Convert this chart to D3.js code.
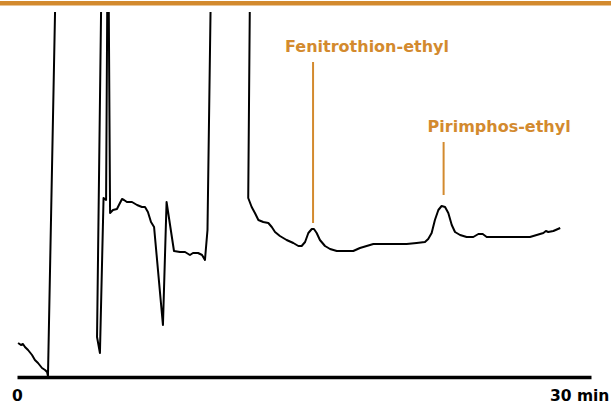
<!DOCTYPE html>
<html>
<head>
<meta charset="utf-8">
<script src="https://cdn.jsdelivr.net/npm/d3@7"></script>
<style>
  body { margin: 0; background: #fff; }
  svg { display: block; }
</style>
</head>
<body>
<svg></svg>
<script>
// chromatogram trace: retention time (min) and detector response (arb. units)
const times = [0.06, 0.22, 0.33, 0.44, 0.61, 0.83, 0.99, 1.16, 1.38, 1.55, 1.66, 1.71, 2.16,
  4.68, 4.42, 4.58, 4.78, 4.92, 5.00, 5.05, 5.14, 5.30, 5.52, 5.63, 5.80, 5.91, 6.07, 6.35,
  6.63, 6.90, 7.07, 7.23, 7.40, 7.57, 8.06, 8.26, 8.67, 9.00, 9.28, 9.55, 9.72, 10.00, 10.22,
  10.38, 10.52, 10.73, 12.88, 12.77, 12.96, 13.14, 13.33, 13.60, 13.88, 14.07, 14.25, 14.52,
  14.89, 15.26, 15.54, 15.72, 15.91, 16.09, 16.28, 16.40, 16.55, 16.73, 17.01, 17.29, 17.66,
  18.21, 18.57, 18.94, 19.31, 19.68, 20.60, 21.52, 22.07, 22.53, 22.71, 22.90, 23.08, 23.27,
  23.45, 23.64, 23.82, 24.01, 24.19, 24.47, 24.83, 25.20, 25.48, 25.72, 25.94, 26.67, 27.23,
  27.60, 28.33, 28.70, 29.07, 29.21, 29.34, 29.62, 30.00];
const response = [34, 32, 33, 30, 27, 22, 17, 14, 9, 7, 5, 1, 420,
  420, 40, 24, 179, 177, 420, 420, 164, 167, 168, 172, 178, 177, 175, 175,
  172, 170, 170, 165, 155, 150, 52, 175, 126, 125, 125, 122, 124, 124, 122,
  117, 147, 420, 420, 179, 170, 164, 157, 155, 154, 150, 145, 141,
  137, 134, 131, 131, 135, 144, 148, 148, 144, 137, 131, 128, 126,
  126, 126, 129, 131, 133, 133, 133, 134, 135, 138, 144, 157, 167,
  171, 170, 164, 152, 145, 142, 140, 140, 143, 143, 140, 140, 140,
  140, 140, 142, 144, 146, 145, 146, 149];

// identified peaks
const peakNames = ["Fenitrothion-ethyl", "Pirimphos-ethyl"];
const peakTimes = [16.35, 23.56];
const peakHeights = [148, 171];

const tickValues = [0, 30];
const timeUnit = "min";

const W = 611, H = 403;
const orange = "#d38a2e";

const svg = d3.select("svg").attr("width", W).attr("height", H);

const x = d3.scaleLinear().domain([0, 31.7]).range([17, 591]);
const y = d3.scaleLinear().domain([0, 365]).range([377, 12]);

// top rule
svg.append("rect")
  .attr("x", 0).attr("y", 1)
  .attr("width", W).attr("height", 4.5)
  .attr("fill", orange);

svg.append("clipPath").attr("id", "plotClip")
  .append("rect")
  .attr("x", 0).attr("y", 12)
  .attr("width", W).attr("height", H - 12);

const trace = times.map((t, i) => [t, response[i]]);

const line = d3.line()
  .x(d => x(d[0]))
  .y(d => y(d[1]));

svg.append("path")
  .datum(trace)
  .attr("clip-path", "url(#plotClip)")
  .attr("d", line)
  .attr("fill", "none")
  .attr("stroke", "#000")
  .attr("stroke-width", 2)
  .attr("stroke-linejoin", "round");

// time axis
const axis = svg.append("g")
  .attr("transform", "translate(0," + y(0) + ")")
  .call(d3.axisBottom(x).tickValues(tickValues).tickSize(0).tickSizeOuter(0).tickFormat(""));

axis.select(".domain")
  .attr("stroke", "#000")
  .attr("stroke-width", 3.5);

axis.selectAll(".tick").each(function(d, i) {
  let t = d3.select(this).append("text")
    .attr("y", 23.5)
    .attr("fill", "#000")
    .attr("font-family", "DejaVu Sans")
    .attr("font-weight", "bold")
    .attr("font-size", "15.5px")
    .attr("text-anchor", "start")
    .text(d3.format("d")(d) + (i == tickValues.length - 1 ? " " + timeUnit : ""));
  // centre the number itself on its tick
  let numW = t.node().getSubStringLength(0, String(d).length);
  t.attr("x", -numW / 2);
});

// peak call-outs
const leaderTop = [315, 235];     // response level where the leader line ends
const labelShift = [-28, -16];    // label start relative to the leader line, px

peakNames.forEach((name, i) => {
  let px = x(peakTimes[i]);
  svg.append("line")
    .attr("x1", px).attr("x2", px)
    .attr("y1", y(peakHeights[i]) - (i == 0 ? 6 : 11))
    .attr("y2", y(leaderTop[i]))
    .attr("stroke", orange)
    .attr("stroke-width", 2);

  svg.append("text")
    .attr("x", px + labelShift[i])
    .attr("y", y(leaderTop[i]) - 10)
    .attr("font-family", "DejaVu Sans")
    .attr("font-weight", "bold")
    .attr("font-size", "16px")
    .attr("fill", orange)
    .text(name);
});
</script>
</body>
</html>
